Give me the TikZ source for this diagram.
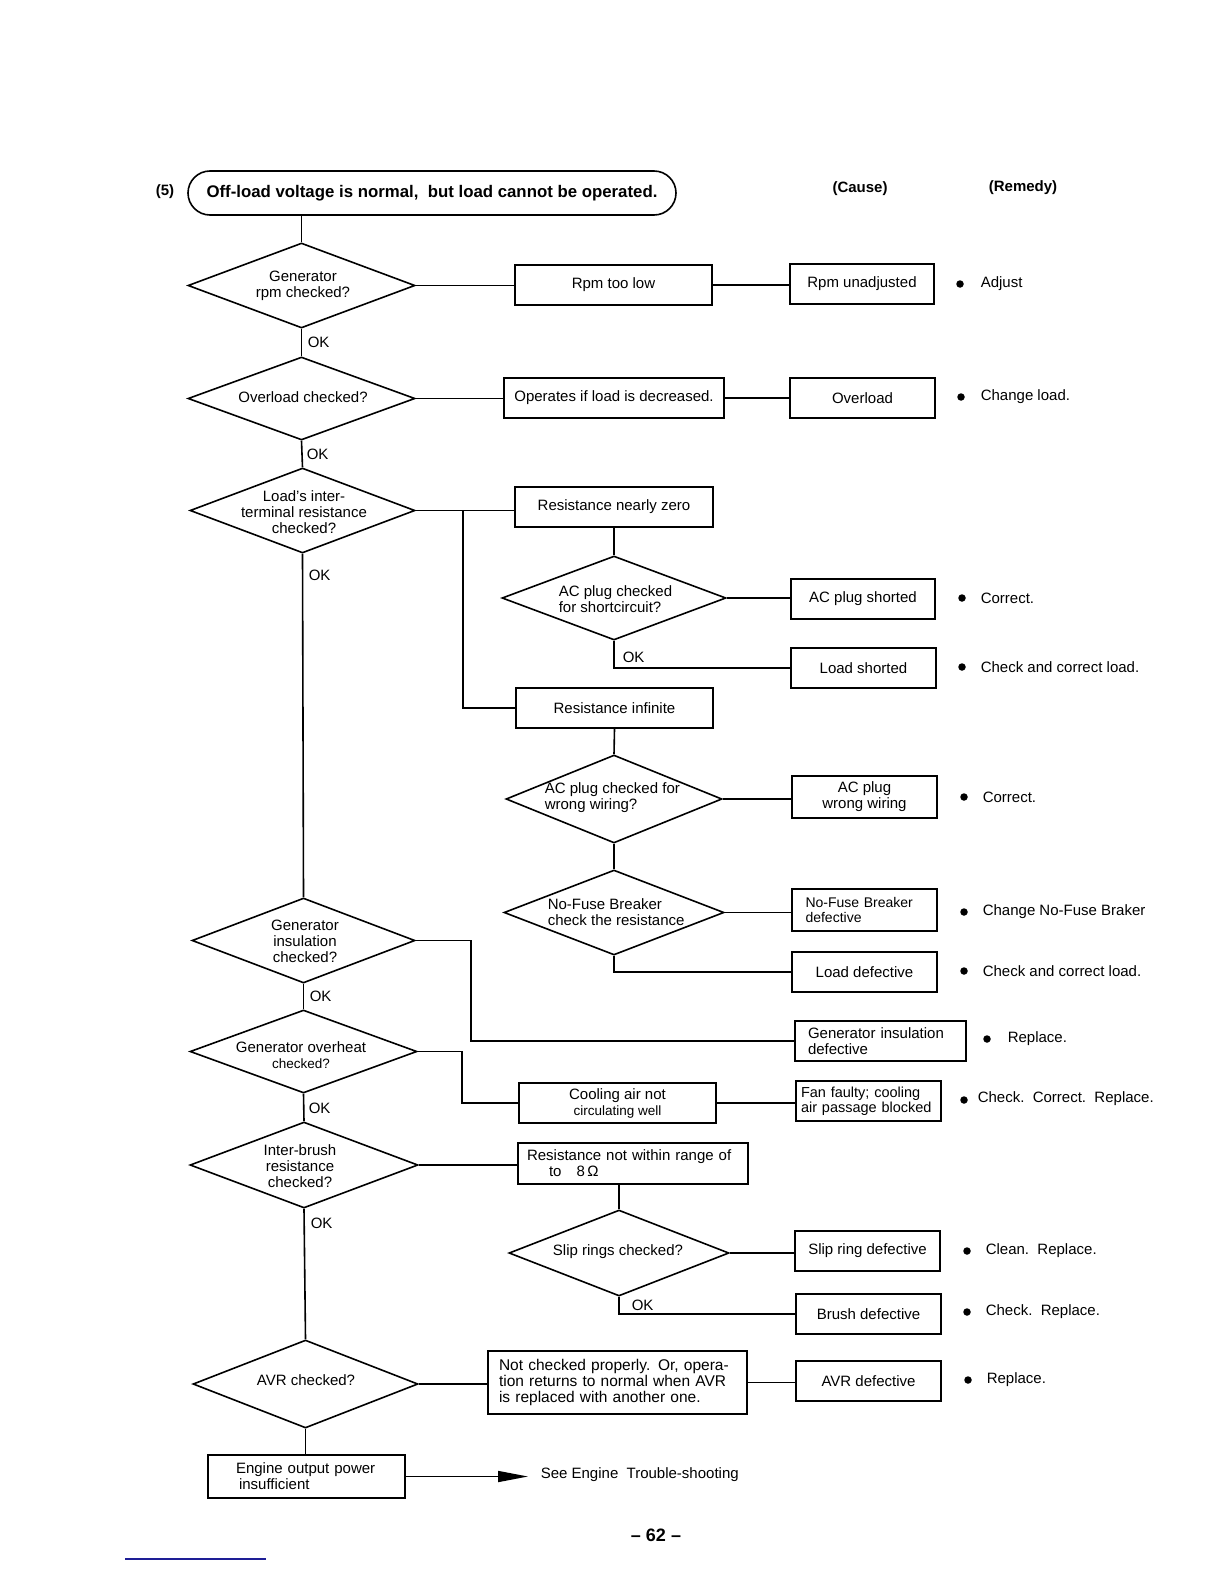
\documentclass[tikz,border=0pt]{standalone}
\usepackage{fontspec}
\setmainfont{Liberation Sans}
\usetikzlibrary{shapes.geometric,arrows.meta}
\newcommand\myfs{\fontsize{15}{16}\selectfont}
\newcommand\mysm{\fontsize{13.5}{15}\selectfont}
\definecolor{linkblue}{RGB}{30,30,150}
\begin{document}
\begin{tikzpicture}[x=1pt,y=-1pt,line width=1.6pt,
  dia/.style={draw,diamond,inner sep=0pt},
  cbox/.style={draw,rectangle,inner sep=0pt,align=center,font=\myfs},
  dtxt/.style={inner sep=0pt,align=center,font=\myfs},
  dtxtl/.style={inner sep=0pt,align=left,anchor=west,font=\myfs},
  okl/.style={anchor=west,inner sep=0pt,font=\myfs},
  rem/.style={anchor=west,inner sep=0pt,font=\myfs},
  bul/.style={circle,fill,draw=none,inner sep=0pt,minimum size=7.5pt},
  head/.style={inner sep=0pt,font=\fontsize{15}{16}\selectfont\bfseries},
  ttl/.style={draw,rounded corners=22pt,inner sep=0pt,minimum width=488pt,minimum height=44pt,font=\fontsize{16.8}{18}\selectfont\bfseries}
]
\useasboundingbox (0,0) rectangle (1224,1584);

% headings
\node[head] (five) at (165,192) {(5)};
\node[ttl] (title) at (432,193) {Off-load voltage is normal,\ \ but load cannot be operated.};
\node[head] (cause) at (860,189) {(Cause)};
\node[head] (remedy) at (1023,188) {(Remedy)};

% main column diamonds
\node[dia,minimum width=227pt,minimum height=85pt] (d1) at (301.5,285.5) {};
\node[dtxt] (d1t) at (303,286) {Generator\\rpm checked?};
\node[dia,minimum width=227pt,minimum height=83pt] (d2) at (301.5,398.5) {};
\node[dtxt] (d2t) at (303,397) {Overload checked?};
\node[dia,minimum width=225pt,minimum height=85pt] (d3) at (302.5,510.5) {};
\node[dtxt] (d3t) at (304,512) {Load's inter-\\terminal resistance\\checked?};
\node[dia,minimum width=223pt,minimum height=85pt] (d7) at (303.5,940.5) {};
\node[dtxt] (d7t) at (305,941) {Generator\\insulation\\checked?};
\node[dia,minimum width=227pt,minimum height=83pt] (d8) at (303.5,1051.5) {};
\node[dtxt] (d8t) at (301,1055) {Generator overheat\\{\mysm checked?}};
\node[dia,minimum width=228pt,minimum height=86pt] (d9) at (304,1165) {};
\node[dtxt] (d9t) at (300,1166) {Inter-brush\\resistance\\checked?};
\node[dia,minimum width=225pt,minimum height=88pt] (d11) at (305.5,1384) {};
\node[dtxt] (d11t) at (306,1380) {AVR checked?};

% branch diamonds
\node[dia,minimum width=224pt,minimum height=84pt] (d4) at (614,598) {};
\node[dtxtl] (d4t) at (558,599) {AC plug checked\\for shortcircuit?};
\node[dia,minimum width=216pt,minimum height=88pt] (d5) at (614,799) {};
\node[dtxtl] (d5t) at (544,798) {AC plug checked for\\wrong wiring?};
\node[dia,minimum width=220pt,minimum height=85pt] (d6) at (614,912.5) {};
\node[dtxtl] (d6t) at (547,912) {No-Fuse Breaker\\check the resistance};
\node[dia,minimum width=220pt,minimum height=86pt] (d10) at (619,1253) {};
\node[dtxt] (d10t) at (618,1252) {Slip rings checked?};

% boxes
\node[cbox,minimum width=197pt,minimum height=40pt] (r1) at (613.5,285) {Rpm too low};
\node[cbox,minimum width=144pt,minimum height=40pt] (c1) at (862,284) {Rpm unadjusted};
\node[cbox,minimum width=220pt,minimum height=40pt] (r2) at (614,398) {Operates if load is decreased.};
\node[cbox,minimum width=145pt,minimum height=40pt] (c2) at (862.5,398) {Overload};
\node[cbox,minimum width=198pt,minimum height=40pt] (rnz) at (614,507) {Resistance nearly zero};
\node[cbox,minimum width=144pt,minimum height=40pt] (acs) at (863,599) {AC plug shorted};
\node[cbox,minimum width=145pt,minimum height=40pt] (lsh) at (863.5,668) {Load shorted};
\node[cbox,minimum width=197pt,minimum height=40pt] (rinf) at (614.5,708) {Resistance infinite};
\node[cbox,minimum width=145pt,minimum height=42pt] (acw) at (864.5,797) {AC plug\\wrong wiring};
\node[cbox,align=left,text width=118pt,minimum width=145pt,minimum height=42pt,font=\fontsize{14}{15}\selectfont] (nfb) at (864.5,910) {No-Fuse Breaker\\defective};
\node[cbox,minimum width=145pt,minimum height=40pt] (ld) at (864.5,972) {Load defective};
\node[cbox,align=left,text width=145pt,minimum width=171pt,minimum height=40pt] (gid) at (880.5,1041) {Generator insulation\\defective};
\node[cbox,minimum width=197pt,minimum height=40pt] (cool) at (617.5,1103) {Cooling air not\\{\mysm circulating well}};
\node[cbox,align=left,text width=135pt,minimum width=145pt,minimum height=40pt,font=\fontsize{14.5}{15.5}\selectfont] (fan) at (868.5,1101) {Fan faulty; cooling\\air passage blocked};
\node[cbox,align=left,text width=212pt,minimum width=230pt,minimum height=41pt] (rnw) at (633,1163.5) {Resistance not within range of\\\hspace*{22pt}to\ \ \ 8\,Ω};
\node[cbox,minimum width=145pt,minimum height=40pt] (slip) at (867.5,1251) {Slip ring defective};
\node[cbox,minimum width=145pt,minimum height=40pt] (brush) at (868.5,1314) {Brush defective};
\node[cbox,align=left,text width=237pt,minimum width=259pt,minimum height=63pt,font=\fontsize{15.5}{16}\selectfont] (nc) at (617.5,1382.5) {Not checked properly. Or, opera-\\tion returns to normal when AVR\\is replaced with another one.};
\node[cbox,minimum width=145pt,minimum height=40pt] (avr) at (868.5,1381) {AVR defective};
\node[cbox,align=left,text width=141pt,minimum width=197pt,minimum height=43pt] (eng) at (306.5,1476.5) {Engine output power\\\hspace*{3pt}insufficient};

% OK labels
\node[okl] (ok1) at (307,342) {OK};
\node[okl] (ok2) at (306,454) {OK};
\node[okl] (ok3) at (308,575) {OK};
\node[okl] (ok4) at (622,657) {OK};
\node[okl] (ok7) at (309,996) {OK};
\node[okl] (ok8) at (308,1108) {OK};
\node[okl] (ok9) at (310,1223) {OK};
\node[okl] (ok10) at (631,1305) {OK};

% remedies
\node[bul] (b1) at (960,284) {};   \node[rem] (m1) at (980,284) {Adjust};
\node[bul] (b2) at (961,397) {};   \node[rem] (m2) at (980,397) {Change load.};
\node[bul] (b3) at (962,598) {};   \node[rem] (m3) at (980,598) {Correct.};
\node[bul] (b4) at (962,667) {};   \node[rem] (m4) at (980,667) {Check and correct load.};
\node[bul] (b5) at (964,797) {};   \node[rem] (m5) at (982,797) {Correct.};
\node[bul] (b6) at (964,912) {};   \node[rem] (m6) at (982,912) {Change No-Fuse Braker};
\node[bul] (b7) at (964,971) {};   \node[rem] (m7) at (982,971) {Check and correct load.};
\node[bul] (b8) at (987,1039) {};  \node[rem] (m8) at (1007,1039) {Replace.};
\node[bul] (b9) at (964,1100) {};  \node[rem] (m9) at (977,1099) {Check.\ \ Correct.\ \ Replace.};
\node[bul] (b10) at (967,1251) {}; \node[rem] (m10) at (985,1251) {Clean.\ \ Replace.};
\node[bul] (b11) at (967,1312) {}; \node[rem] (m11) at (985,1312) {Check.\ \ Replace.};
\node[bul] (b12) at (968,1380) {}; \node[rem] (m12) at (986,1380) {Replace.};

\node[rem] (see) at (540,1475) {See Engine\ \ Trouble-shooting};
\node[inner sep=0pt,font=\fontsize{18}{20}\selectfont\bfseries] (page) at (656,1535) {– 62 –};

% junction coordinates
\coordinate (j3) at (463,510.5);
\coordinate (j7) at (471,940.5);
\coordinate (j8) at (462,1051.5);
\coordinate (arrEnd) at (528,1476.5);
\coordinate (bl1) at (125,1559);
\coordinate (bl2) at (266,1559);

% main chain
\draw (d1.north) -- (d1.north |- title.south);
\draw (d1.south) -- (d2.north);
\draw (d2.south) -- (d3.north);
\draw (d3.south) -- (d7.north);
\draw (d7.south) -- (d8.north);
\draw (d8.south) -- (d9.north);
\draw (d9.south) -- (d11.north);
\draw (d11.south) -- (d11.south |- eng.north);
\draw[-{Triangle[length=30pt,width=11pt]}] (eng.east) -- (arrEnd);

% rows
\draw (d1.east) -- (r1.west |- d1.east);
\draw (r1.east) -- (c1.west |- r1.east);
\draw (d2.east) -- (r2.west |- d2.east);
\draw (r2.east) -- (c2.west |- r2.east);

\draw (d3.east) -- (rnz.west |- d3.east);
\draw (j3) |- (rinf.west);
\draw (rnz.south) -- (d4.north);
\draw (d4.east) -- (acs.west |- d4.east);
\draw (d4.south) |- (lsh.west);
\draw (rinf.south) -- (d5.north);
\draw (d5.east) -- (acw.west |- d5.east);
\draw (d5.south) -- (d6.north);
\draw (d6.east) -- (nfb.west |- d6.east);
\draw (d6.south) |- (ld.west);

\draw (d7.east) -- (j7) |- (gid.west);
\draw (d8.east) -- (j8) |- (cool.west);
\draw (cool.east) -- (fan.west |- cool.east);

\draw (d9.east) -- (rnw.west |- d9.east);
\draw (d10.north) -- (d10.north |- rnw.south);
\draw (d10.east) -- (slip.west |- d10.east);
\draw (d10.south) |- (brush.west);

\draw (d11.east) -- (nc.west |- d11.east);
\draw (nc.east) -- (avr.west |- nc.east);

\draw[linkblue,line width=1.2pt] (bl1) -- (bl2);
\end{tikzpicture}
\end{document}
